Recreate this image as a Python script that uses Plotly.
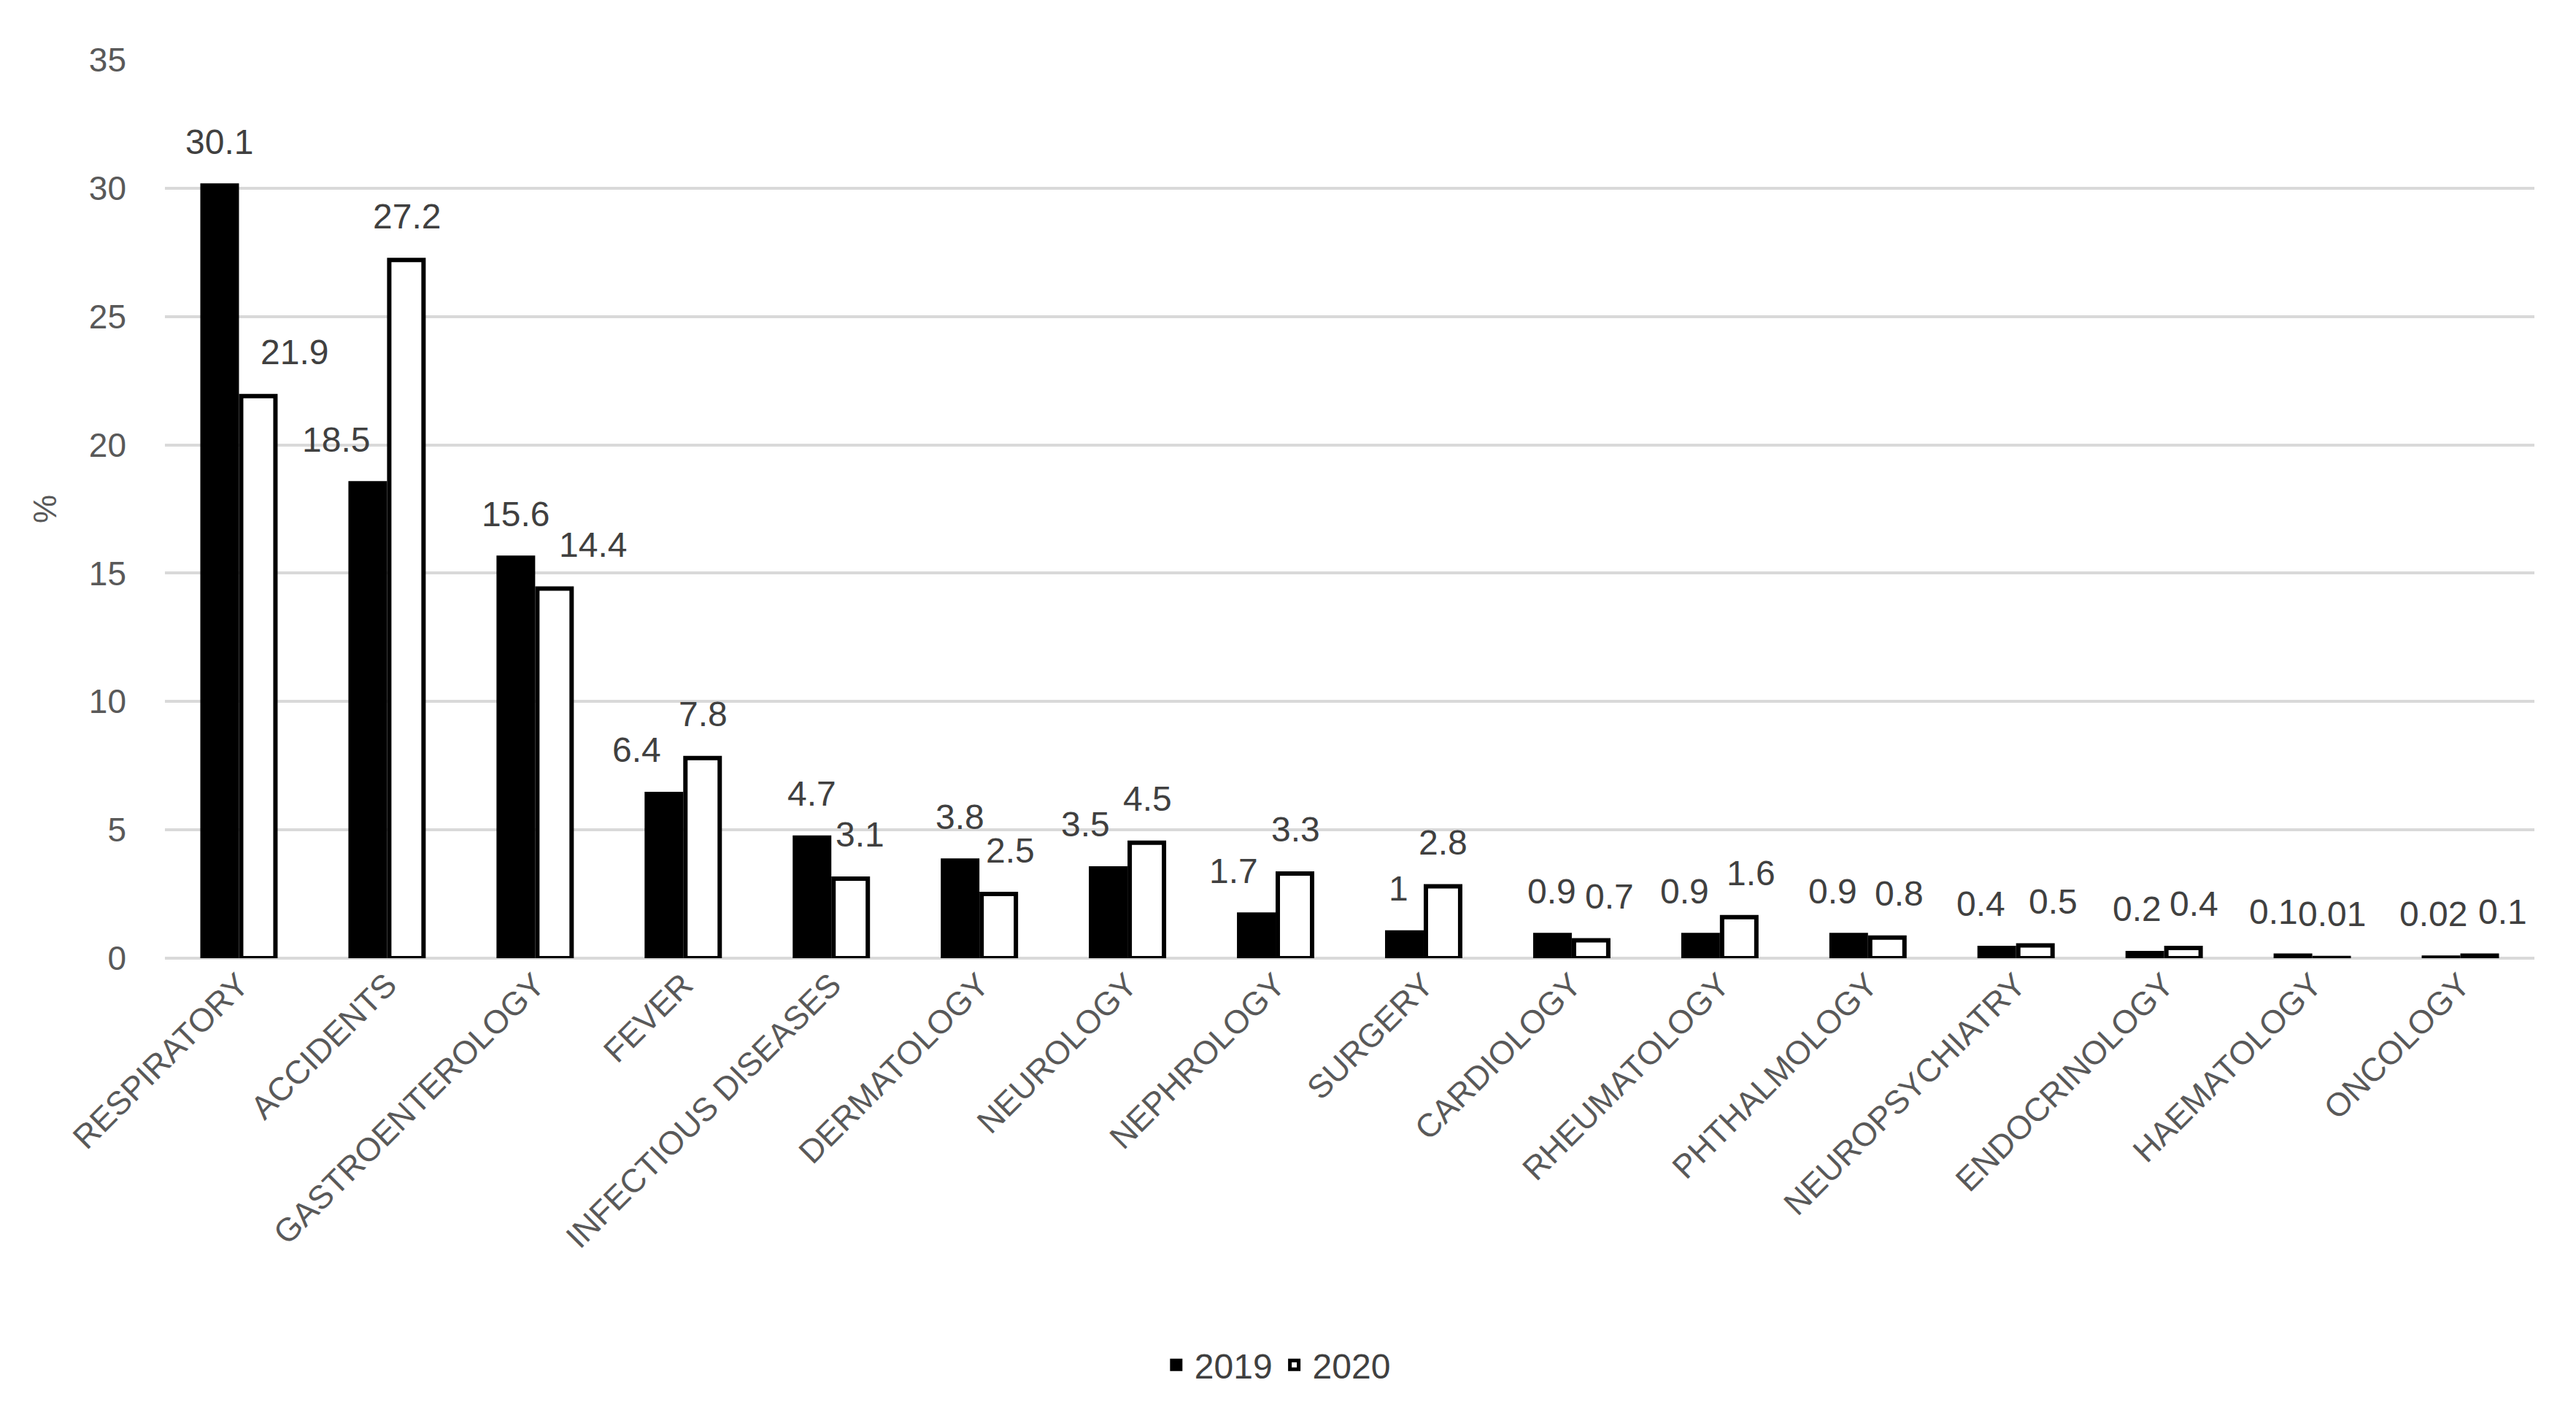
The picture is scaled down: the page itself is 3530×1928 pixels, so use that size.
import plotly.graph_objects as go

categories = ["RESPIRATORY", "ACCIDENTS", "GASTROENTEROLOGY", "FEVER", "INFECTIOUS DISEASES",
              "DERMATOLOGY", "NEUROLOGY", "NEPHROLOGY", "SURGERY", "CARDIOLOGY",
              "RHEUMATOLOGY", "PHTHALMOLOGY", "NEUROPSYCHIATRY", "ENDOCRINOLOGY",
              "HAEMATOLOGY", "ONCOLOGY"]
values_2019 = [30.1, 18.5, 15.6, 6.4, 4.7, 3.8, 3.5, 1.7, 1, 0.9, 0.9, 0.9, 0.4, 0.2, 0.1, 0.02]
values_2020 = [21.9, 27.2, 14.4, 7.8, 3.1, 2.5, 4.5, 3.3, 2.8, 0.7, 1.6, 0.8, 0.5, 0.4, 0.01, 0.1]
labels_2019 = ["30.1", "18.5", "15.6", "6.4", "4.7", "3.8", "3.5", "1.7", "1", "0.9", "0.9", "0.9", "0.4", "0.2", "0.1", "0.02"]
labels_2020 = ["21.9", "27.2", "14.4", "7.8", "3.1", "2.5", "4.5", "3.3", "2.8", "0.7", "1.6", "0.8", "0.5", "0.4", "0.01", "0.1"]
y_ticks = [0, 5, 10, 15, 20, 25, 30, 35]

# style: horizontal pixel nudges of the value labels (as hand-placed in the original)
nudge_2019 = [0, -43, 0, -37, 0, 0, -31, -31, -7, 0, -21, -21, -21, -10, -26, -10]
nudge_2020 = [49, 0, 52, 0, 12, 15, 0, 0, 0, 25, 16, 16, 24, 14, 0, 31]

FONT = "Liberation Sans"
TXT = "#404040"
BAR_OFFSET = 27   # px between group centre and bar centre
LABEL_LIFT = 60   # px between bar top and label centre

fig = go.Figure()
fig.add_trace(go.Bar(
    name="2019", x=categories, y=values_2019,
    marker=dict(color="black", line=dict(color="black", width=6)),
))
fig.add_trace(go.Bar(
    name="2020", x=categories, y=values_2020,
    marker=dict(color="white", line=dict(color="black", width=6)),
))

annotations = []
for cat, v, t, dx in zip(categories, values_2019, labels_2019, nudge_2019):
    annotations.append(dict(x=cat, y=v, xref="x", yref="y", text=t, showarrow=False,
                            xshift=-BAR_OFFSET + dx, yshift=LABEL_LIFT, yanchor="middle",
                            xanchor="center", font=dict(size=48, color=TXT, family=FONT)))
for cat, v, t, dx in zip(categories, values_2020, labels_2020, nudge_2020):
    annotations.append(dict(x=cat, y=v, xref="x", yref="y", text=t, showarrow=False,
                            xshift=BAR_OFFSET + dx, yshift=LABEL_LIFT, yanchor="middle",
                            xanchor="center", font=dict(size=48, color=TXT, family=FONT)))

fig.update_layout(
    width=3530, height=1928,
    paper_bgcolor="white", plot_bgcolor="white",
    font=dict(family=FONT, size=44, color="#595959"),
    barmode="group", bargap=0.478, bargroupgap=0.113,
    margin=dict(l=218, r=65, t=74, b=623, autoexpand=False),
    showlegend=True,
    legend=dict(orientation="h", x=0.469, xanchor="center",
                y=-0.453, yanchor="middle",
                font=dict(size=48, color="#404040", family=FONT), traceorder="normal",
                itemwidth=40),
    annotations=annotations,
)
fig.update_xaxes(
    tickangle=-45, showgrid=False, showline=False, ticks="",
    tickfont=dict(size=45, color="#595959", family=FONT),
)
fig.update_yaxes(
    range=[0, 35], tickvals=y_ticks, showgrid=True, gridcolor="#d9d9d9", gridwidth=4,
    zeroline=True, zerolinecolor="#d9d9d9", zerolinewidth=4, showline=False,
    tickfont=dict(size=46, color="#595959", family=FONT), ticklabelstandoff=52,
    title=dict(text="%", font=dict(size=44, color="#595959", family=FONT), standoff=30),
)

fig.write_html("out.html")
